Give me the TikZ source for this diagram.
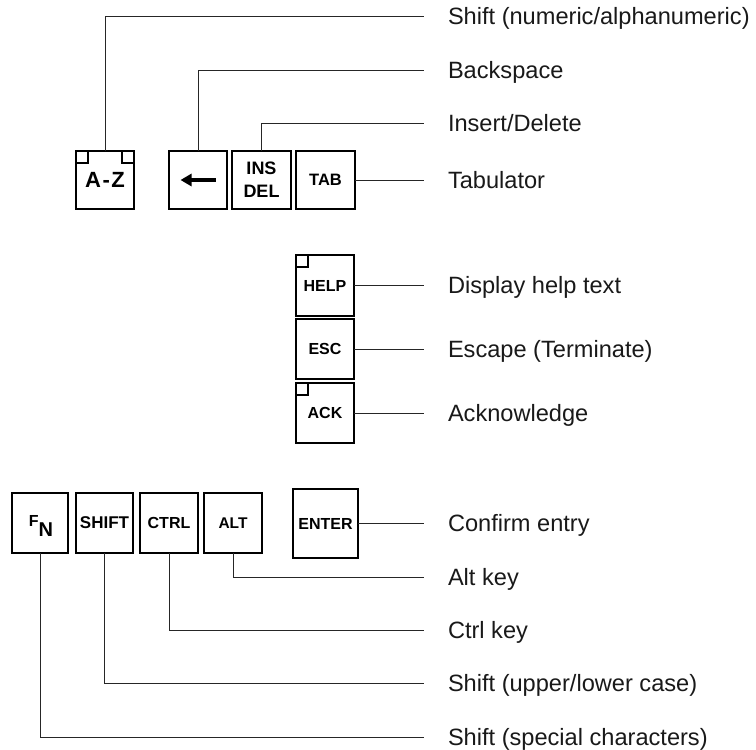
\documentclass[tikz,border=0pt]{standalone}
\usepackage{fontspec}
\setmainfont{Liberation Sans}
\usetikzlibrary{arrows.meta}
\begin{document}
\begin{tikzpicture}[x=1pt,y=-1pt,
  key/.style={draw=black,line width=1.6pt,rectangle,inner sep=0pt,outer sep=0pt,
    minimum width=58pt,minimum height=60pt,font=\bfseries\fontsize{16}{19}\selectfont,align=center},
  lbl/.style={anchor=west,inner sep=0pt,outer sep=0pt,text height=16.9pt,text depth=0pt,
    font=\fontsize{23.6}{28}\selectfont,text=black!90},
  keytxt/.style={anchor=base west,inner sep=0pt,outer sep=0pt},
  conn/.style={line width=1pt,draw=black!85},
  corner/.style={line width=1.4pt}]
\useasboundingbox (0,0) rectangle (756,750);
% top row keys
\node[key,minimum height=58pt,font=\bfseries\fontsize{22}{24}\selectfont] (az) at (105,180) {A\kern1.5pt-\kern1.5pt Z};
\node[key,minimum height=58pt] (bs) at (198,180) {};
\node[key,minimum width=59pt,minimum height=58pt,font=\bfseries\fontsize{18}{23}\selectfont] (ins) at (261.5,180) {INS\\DEL};
\node[key,minimum width=59pt,minimum height=58pt,font=\bfseries\fontsize{16.5}{19}\selectfont] (tab) at (325.5,180) {TAB};
% middle column
\node[key,minimum height=61pt] (help) at (325,285.5) {HELP};
\node[key] (esc) at (325,349) {ESC};
\node[key] (ack) at (325,413) {ACK};
% bottom row
\node[key,minimum width=56pt] (fn) at (40,523) {};
\node[keytxt,font=\fontsize{16}{18}\selectfont\bfseries] (fnf) at (28.8,526.5) {F};
\node[keytxt,font=\bfseries\fontsize{20}{22}\selectfont] (fnn) at (38.6,536) {N};
\node[key,minimum width=57pt,font=\bfseries\fontsize{17}{19}\selectfont] (shift) at (104.5,523) {SHIFT};
\node[key] (ctrl) at (169,523) {CTRL};
\node[key,font=\bfseries\fontsize{15.5}{19}\selectfont] (alt) at (233,523) {ALT};
\node[key,minimum width=65pt,minimum height=69pt] (enter) at (325.5,523.5) {ENTER};
% corner marks
\draw[corner] (az.north west) rectangle ++(12,12);
\draw[corner] (az.north east) rectangle ++(-12,12);
\draw[corner] (help.north west) rectangle ++(12,12);
\draw[corner] (ack.north west) rectangle ++(12,12);
% backspace arrow
\draw[line width=4pt,-{Triangle[length=11pt,width=12pt]}] ([xshift=17.5pt]bs.center) -- ([xshift=-17.5pt]bs.center);
% labels
\node[lbl] (l1) at (448,16) {Shift (numeric/alphanumeric)};
\node[lbl] (l2) at (448,70) {Backspace};
\node[lbl] (l3) at (448,123) {Insert/Delete};
\node[lbl] (l4) at (448,180) {Tabulator};
\node[lbl] (l5) at (448,285.5) {Display help text};
\node[lbl] (l6) at (448,349) {Escape (Terminate)};
\node[lbl] (l7) at (448,413) {Acknowledge};
\node[lbl] (l8) at (448,523.5) {Confirm entry};
\node[lbl] (l9) at (448,577) {Alt key};
\node[lbl] (l10) at (448,630) {Ctrl key};
\node[lbl] (l11) at (448,683) {Shift (upper/lower case)};
\node[lbl] (l12) at (448,737) {Shift (special characters)};
% connectors
\draw[conn] (az.north) |- ([xshift=-24pt]l1.west);
\draw[conn] (bs.north) |- ([xshift=-24pt]l2.west);
\draw[conn] (ins.north) |- ([xshift=-24pt]l3.west);
\draw[conn] (tab.east) -- ([xshift=-24pt]l4.west);
\draw[conn] (help.east) -- ([xshift=-24pt]l5.west);
\draw[conn] (esc.east) -- ([xshift=-24pt]l6.west);
\draw[conn] (ack.east) -- ([xshift=-24pt]l7.west);
\draw[conn] (enter.east) -- ([xshift=-24pt]l8.west);
\draw[conn] (alt.south) |- ([xshift=-24pt]l9.west);
\draw[conn] (ctrl.south) |- ([xshift=-24pt]l10.west);
\draw[conn] (shift.south) |- ([xshift=-24pt]l11.west);
\draw[conn] (fn.south) |- ([xshift=-24pt]l12.west);
\end{tikzpicture}
\end{document}
